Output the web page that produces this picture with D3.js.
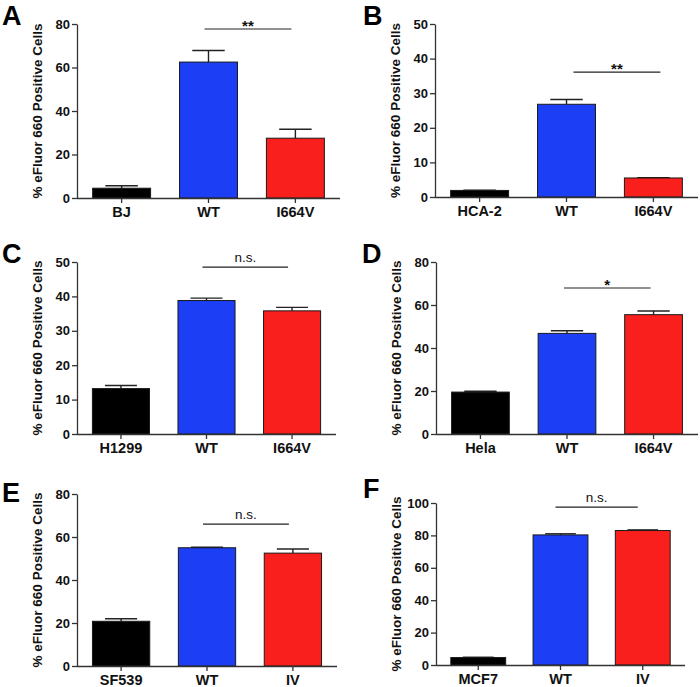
<!DOCTYPE html>
<html>
<head>
<meta charset="utf-8">
<script src="https://cdn.jsdelivr.net/npm/d3@7"></script>
<style>
  body { margin: 0; background: #fff; }
  text { font-family: "Liberation Sans", Arial, sans-serif; font-weight: bold; }
</style>
</head>
<body>
<div id="chart"></div>
<script>
// data
var panelLetters = ["A", "B", "C", "D", "E", "F"];
var panelCategories = [
  ["BJ", "WT", "I664V"],
  ["HCA-2", "WT", "I664V"],
  ["H1299", "WT", "I664V"],
  ["Hela", "WT", "I664V"],
  ["SF539", "WT", "IV"],
  ["MCF7", "WT", "IV"]
];
var panelMeans = [
  [4.5, 62.5, 27.5],
  [1.9, 26.8, 5.5],
  [13.2, 38.8, 35.8],
  [19.5, 46.8, 55.5],
  [20.8, 55.0, 52.5],
  [4.6, 80.3, 83.0]
];
var panelUpper = [   // top of error bar
  [5.6, 67.8, 31.6],
  [2.0, 28.2, 5.6],
  [14.1, 39.5, 36.8],
  [19.9, 48.0, 57.2],
  [22.0, 55.2, 54.4],
  [4.8, 81.0, 83.4]
];
var yMax = [80, 50, 50, 80, 80, 100];
var yTicks = [
  [0, 20, 40, 60, 80],
  [0, 10, 20, 30, 40, 50],
  [0, 10, 20, 30, 40, 50],
  [0, 20, 40, 60, 80],
  [0, 20, 40, 60, 80],
  [0, 20, 40, 60, 80, 100]
];
var sigLabels = ["**", "**", "n.s.", "*", "n.s.", "n.s."];
var sigLevel = [77.7, 36.1, 48.5, 67.9, 66, 97.5];

var yTitle = "% eFluor 660 Positive Cells";
var barColors = ["#000000", "#1c3ef5", "#f91f1c"];

// layout of each panel: plot box + label spots
var layout = [
  {x0: 77,  x1: 340, top: 24,  bottom: 198, lx: 2,   ly: 25,  shift: -4},
  {x0: 435, x1: 698, top: 24,  bottom: 197, lx: 363, ly: 25,  shift: 7},
  {x0: 77,  x1: 336, top: 262, bottom: 434, lx: 2,   ly: 263, shift: -4},
  {x0: 436, x1: 698, top: 262, bottom: 434, lx: 362, ly: 263, shift: -3},
  {x0: 77,  x1: 337, top: 494, bottom: 666, lx: 2,   ly: 502, shift: -4},
  {x0: 436, x1: 685, top: 503, bottom: 665, lx: 363, ly: 498, shift: -5}
];

var svg = d3.select("#chart").append("svg")
  .attr("width", 700)
  .attr("height", 687);

function drawPanel(i) {
  var L = layout[i];
  var cats = panelCategories[i];
  var g = svg.append("g");

  var x = d3.scaleBand().domain(cats).range([L.x0, L.x1])
    .paddingInner(0.333).paddingOuter(0.18);
  var y = d3.scaleLinear().domain([0, yMax[i]]).range([L.bottom, L.top]);

  var rows = cats.map(function(c, k) {
    return {cat: c, mean: panelMeans[i][k], upper: panelUpper[i][k], color: barColors[k]};
  });

  // error bars first so the bar covers the lower part
  var bw = x.bandwidth();
  var eg = g.append("g").attr("stroke", "#222").attr("stroke-width", 1.4);
  eg.selectAll("line.v").data(rows).join("line")
    .attr("class", "v")
    .attr("x1", d => x(d.cat) + bw / 2).attr("x2", d => x(d.cat) + bw / 2)
    .attr("y1", d => y(d.mean)).attr("y2", d => y(d.upper));
  eg.selectAll("line.c").data(rows).join("line")
    .attr("class", "c")
    .attr("x1", d => x(d.cat) + bw * 0.22).attr("x2", d => x(d.cat) + bw * 0.78)
    .attr("y1", d => y(d.upper)).attr("y2", d => y(d.upper));

  g.append("g").selectAll("rect").data(rows).join("rect")
    .attr("x", d => x(d.cat))
    .attr("y", d => y(d.mean))
    .attr("width", bw)
    .attr("height", d => y(0) - y(d.mean))
    .attr("fill", d => d.color)
    .attr("stroke", "#1a1a1a")
    .attr("stroke-width", 1);

  // axes
  var yAxis = g.append("g")
    .attr("transform", "translate(" + L.x0 + ",0)")
    .call(d3.axisLeft(y).tickValues(yTicks[i]).tickSize(5).tickPadding(2).tickSizeOuter(0));
  var xAxis = g.append("g")
    .attr("transform", "translate(0," + L.bottom + ")")
    .call(d3.axisBottom(x).tickSize(5).tickPadding(4).tickSizeOuter(0));
  xAxis.select(".domain").attr("d", "M" + L.x0 + ",0.5H" + L.x1);
  [yAxis, xAxis].forEach(function(a) {
    a.selectAll(".domain, line").attr("stroke", "#333").attr("stroke-width", 1.3);
  });
  yAxis.selectAll("text").style("font-size", "13px").attr("fill", "#111");
  xAxis.selectAll("text").style("font-size", "14.5px").attr("fill", "#111");

  // y title
  g.append("text")
    .attr("transform", "translate(" + (L.x0 - 40) + "," + ((L.top + L.bottom) / 2) + ") rotate(-90)")
    .attr("text-anchor", "middle")
    .attr("dy", "0.35em")
    .style("font-size", "13.5px")
    .attr("fill", "#111")
    .text(yTitle);

  // significance bar
  var xa = x(cats[1]) + bw / 2 + L.shift;
  var xb = x(cats[2]) + bw / 2 + L.shift;
  var ys = y(sigLevel[i]);
  g.append("line")
    .attr("x1", xa).attr("x2", xb).attr("y1", ys).attr("y2", ys)
    .attr("stroke", "#222").attr("stroke-width", 1.2);
  var isStar = sigLabels[i].indexOf("*") >= 0;
  g.append("text")
    .attr("x", (xa + xb) / 2)
    .attr("y", ys - (isStar ? -2 : 5))
    .attr("text-anchor", "middle")
    .style("font-size", isStar ? "15px" : "13.5px")
    .style("font-weight", isStar ? "bold" : "normal")
    .attr("fill", "#111")
    .text(sigLabels[i]);

  // panel letter
  g.append("text")
    .attr("x", L.lx).attr("y", L.ly)
    .style("font-size", "27px")
    .attr("fill", "#000")
    .text(panelLetters[i]);
}

for (var i = 0; i < 6; i++) drawPanel(i);
</script>
</body>
</html>
